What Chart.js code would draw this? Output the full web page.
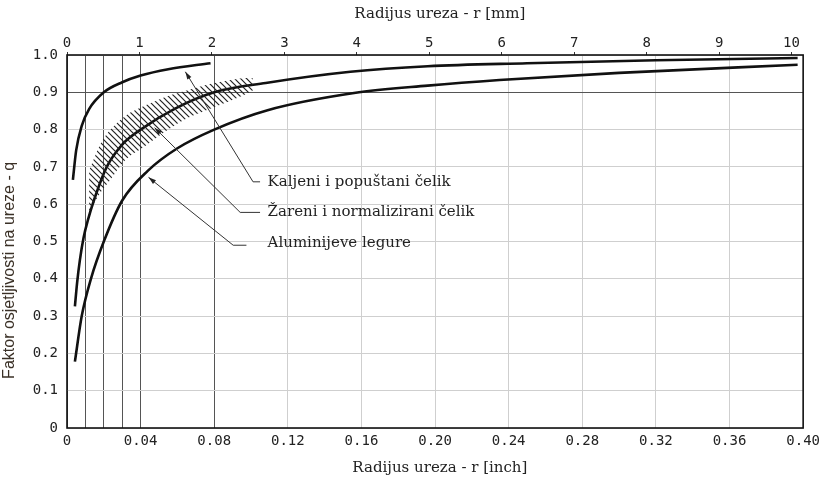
<!DOCTYPE html>
<html lang="hr">
<head>
<meta charset="UTF-8">
<title>Faktor osjetljivosti na ureze</title>
<script src="https://cdn.jsdelivr.net/npm/chart.js"></script>
<style>
    body { margin: 0; background: #ffffff; }
    .wrap { width: 825px; height: 483px; position: relative; }
</style>
</head>
<body>
<div class="wrap"><canvas id="notch"></canvas></div>
<script>
// radijus ureza r [inch] i faktor osjetljivosti q za svaku krivulju
var kaljeniR = [0.0032, 0.005, 0.008, 0.012, 0.02, 0.03, 0.04, 0.055, 0.078];
var kaljeniQ = [0.665, 0.745, 0.81, 0.855, 0.90, 0.927, 0.945, 0.962, 0.978];

var zareniR = [0.0043, 0.0055, 0.007, 0.009, 0.0115, 0.0146, 0.0216, 0.03, 0.04, 0.059, 0.08, 0.108, 0.154, 0.196, 0.25, 0.32, 0.397];
var zareniQ = [0.326, 0.39, 0.45, 0.51, 0.56, 0.61, 0.70, 0.76, 0.80, 0.857, 0.90, 0.925, 0.955, 0.970, 0.978, 0.986, 0.992];

var aluR = [0.0043, 0.008, 0.013, 0.02, 0.03, 0.044, 0.06, 0.08, 0.109, 0.156, 0.196, 0.235, 0.30, 0.397];
var aluQ = [0.178, 0.30, 0.40, 0.50, 0.61, 0.69, 0.75, 0.80, 0.852, 0.898, 0.918, 0.933, 0.952, 0.974];

// šrafirano područje oko krivulje za žareni čelik
var pojasR = [0.012, 0.018, 0.0227, 0.032, 0.0427, 0.055, 0.065, 0.08, 0.095, 0.101];
var pojasGore = [0.69, 0.76, 0.795, 0.838, 0.865, 0.89, 0.905, 0.925, 0.938, 0.938];
var pojasDolje = [0.58, 0.63, 0.66, 0.72, 0.757, 0.80, 0.83, 0.86, 0.89, 0.905];

var yTicks = [0, 0.1, 0.2, 0.3, 0.4, 0.5, 0.6, 0.7, 0.8, 0.9, 1.0];
var nazivi = ['Kaljeni i popuštani čelik', 'Žareni i normalizirani čelik', 'Aluminijeve legure'];

function pts(xs, ys) {
    return xs.map(function (x, i) { return { x: x, y: ys[i] }; });
}

function hatch() {
    var c = document.createElement('canvas');
    c.width = 6; c.height = 6;
    var g = c.getContext('2d');
    g.strokeStyle = '#222';
    g.lineWidth = 1.2;
    g.beginPath();
    g.moveTo(0, 0); g.lineTo(6, 6);
    g.moveTo(-1, 5); g.lineTo(1, 7);
    g.moveTo(5, -1); g.lineTo(7, 1);
    g.stroke();
    return g.createPattern(c, 'repeat');
}

// oznake s pokaznim linijama (u jedinicama osi)
var leaders = [
    { text: nazivi[0], at: [0.109, 0.66], path: [[0.1049, 0.66], [0.1011, 0.66], [0.0643, 0.955]] },
    { text: nazivi[1], at: [0.109, 0.58], path: [[0.1049, 0.578], [0.0941, 0.578], [0.0476, 0.805]] },
    { text: nazivi[2], at: [0.109, 0.497], path: [[0.0975, 0.49], [0.0903, 0.49], [0.0443, 0.672]] }
];

var annotate = {
    id: 'annotate',
    afterDatasetsDraw: function (chart) {
        var ctx = chart.ctx, sx = chart.scales.x, sy = chart.scales.y;
        var a = chart.chartArea;
        ctx.save();
        // okvir dijagrama
        ctx.strokeStyle = '#111';
        ctx.lineWidth = 1.6;
        ctx.strokeRect(a.left, a.top, a.right - a.left, a.bottom - a.top);

        ctx.lineWidth = 1;
        ctx.strokeStyle = '#333';
        ctx.fillStyle = '#222';
        leaders.forEach(function (l) {
            var p = l.path.map(function (q) { return [sx.getPixelForValue(q[0]), sy.getPixelForValue(q[1])]; });
            ctx.beginPath();
            ctx.moveTo(p[0][0], p[0][1]);
            for (var i = 1; i < p.length; i++) ctx.lineTo(p[i][0], p[i][1]);
            ctx.stroke();
            // strelica
            var e = p[p.length - 1], s = p[p.length - 2];
            var ang = Math.atan2(e[1] - s[1], e[0] - s[0]);
            ctx.beginPath();
            ctx.moveTo(e[0], e[1]);
            ctx.lineTo(e[0] - 8 * Math.cos(ang - 0.3), e[1] - 8 * Math.sin(ang - 0.3));
            ctx.lineTo(e[0] - 8 * Math.cos(ang + 0.3), e[1] - 8 * Math.sin(ang + 0.3));
            ctx.closePath();
            ctx.fill();

            ctx.font = "15px 'DejaVu Serif', serif";
            ctx.textAlign = 'left';
            ctx.textBaseline = 'middle';
            ctx.fillText(l.text, sx.getPixelForValue(l.at[0]), sy.getPixelForValue(l.at[1]));
        });
        ctx.restore();
    }
};

var tickFont = { family: "'DejaVu Sans Mono', monospace", size: 14 };
var titleFont = { family: "'DejaVu Serif', serif", size: 15 };

new Chart(document.getElementById('notch'), {
    type: 'line',
    data: {
        datasets: [
            { data: pts(pojasR, pojasGore), borderWidth: 0, pointRadius: 0, fill: '+1', backgroundColor: hatch(), tension: 0.3 },
            { data: pts(pojasR, pojasDolje), borderWidth: 0, pointRadius: 0, fill: false, tension: 0.3 },
            { label: nazivi[0], data: pts(kaljeniR, kaljeniQ), borderColor: '#111', borderWidth: 2.6, pointRadius: 0, cubicInterpolationMode: 'monotone' },
            { label: nazivi[1], data: pts(zareniR, zareniQ), borderColor: '#111', borderWidth: 2.6, pointRadius: 0, cubicInterpolationMode: 'monotone' },
            { label: nazivi[2], data: pts(aluR, aluQ), borderColor: '#111', borderWidth: 2.6, pointRadius: 0, cubicInterpolationMode: 'monotone' }
        ]
    },
    options: {
        responsive: true,
        maintainAspectRatio: false,
        animation: false,
        layout: { padding: { right: 18, bottom: 0 } },
        plugins: { legend: { display: false }, tooltip: { enabled: false } },
        scales: {
            x: {
                type: 'linear', position: 'bottom', min: 0, max: 0.40,
                afterFit: function (s) { s.height = 55; },
                border: { display: false },
                grid: {
                    drawTicks: false,
                    color: function (c) {
                        var n = Math.round(c.tick.value * 100);
                        if (n <= 4 || n === 8) return '#555';
                        if (n % 4 === 0) return '#cfcfcf';
                        return 'rgba(0,0,0,0)';
                    }
                },
                ticks: {
                    stepSize: 0.01, autoSkip: false, maxRotation: 0, padding: 5,
                    color: '#222', font: tickFont,
                    callback: function (v) {
                        var n = Math.round(v * 100);
                        if (n % 4 !== 0) return '';
                        return n === 0 ? '0' : (n / 100).toFixed(2);
                    }
                },
                title: { display: true, text: '\u00a0\u00a0Radijus ureza - r [inch]', color: '#222', font: titleFont, padding: { top: 0, bottom: 6 } }
            },
            x2: {
                type: 'linear', position: 'top', min: 0, max: 10.16,
                afterFit: function (s) { s.height = 55; },
                border: { display: false },
                grid: { drawOnChartArea: false, tickLength: 3, color: '#333' },
                ticks: { stepSize: 1, includeBounds: false, maxRotation: 0, padding: 0, color: '#222', font: tickFont },
                title: { display: true, text: '\u00a0\u00a0Radijus ureza - r [mm]', color: '#222', font: titleFont, padding: { top: 5, bottom: 0 } }
            },
            y: {
                type: 'linear', min: 0, max: 1.0,
                afterFit: function (s) { s.width = 67; },
                afterBuildTicks: function (s) { s.ticks = yTicks.map(function (v) { return { value: v }; }); },
                border: { display: false },
                grid: {
                    drawTicks: false,
                    color: function (c) { return Math.round(c.tick.value * 10) === 9 ? '#555' : '#cfcfcf'; }
                },
                ticks: {
                    padding: 9, color: '#222', font: tickFont,
                    callback: function (v) { return v === 0 ? '0' : v.toFixed(1); }
                },
                title: {
                    display: true,
                    text: 'Faktor osjetljivosti na ureze - q' + '\u00a0'.repeat(13),
                    color: '#3a3026', font: { family: "'Liberation Sans', sans-serif", size: 16 },
                    padding: { top: 0, bottom: 2 }
                }
            }
        }
    },
    plugins: [annotate]
});
</script>
</body>
</html>
